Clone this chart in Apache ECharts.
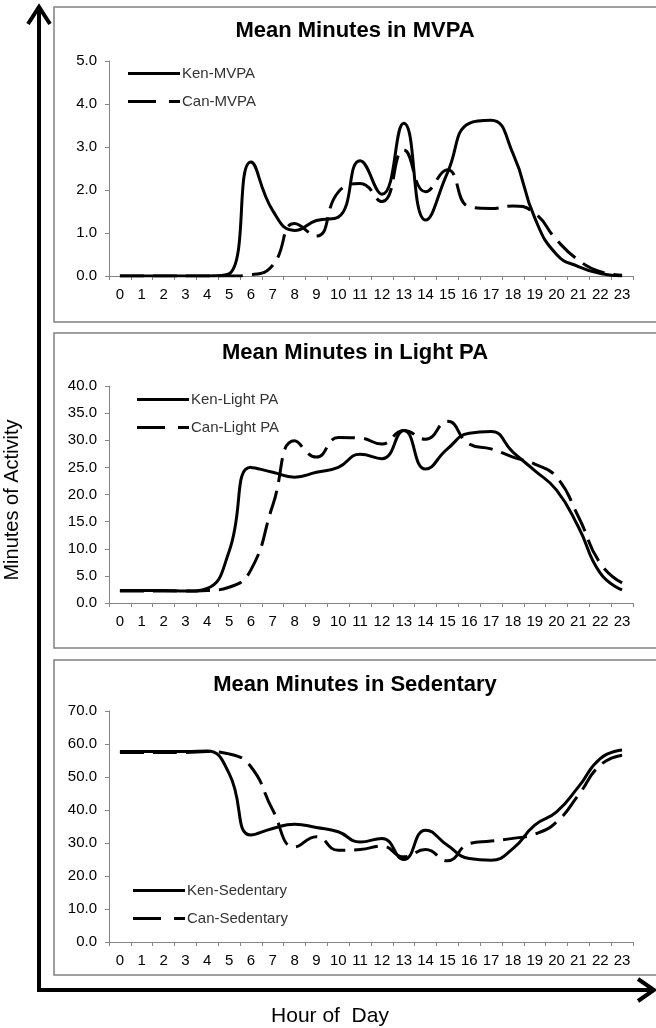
<!DOCTYPE html>
<html>
<head>
<meta charset="utf-8">
<script src="https://cdn.jsdelivr.net/npm/echarts@6/dist/echarts.min.js"></script>
<style>
    html, body { margin: 0; padding: 0; background: #fff; }
    #chart { width: 656px; height: 1028px; }
</style>
</head>
<body>
<div id="chart"></div>
<script>
// hours of the day
const hours = ['0','1','2','3','4','5','6','7','8','9','10','11','12','13','14','15','16','17','18','19','20','21','22','23'];

// mean minutes per hour
const kenMVPA = [0, 0, 0, 0, 0, 0.05, 2.65, 1.52, 1.06, 1.29, 1.37, 2.68, 1.9, 3.55, 1.3, 2.4, 3.55, 3.62, 2.85, 1.35, 0.5, 0.22, 0.06, 0];
const canMVPA = [0, 0, 0, 0, 0, 0, 0.03, 0.25, 1.22, 0.93, 1.95, 2.15, 1.73, 2.93, 1.96, 2.47, 1.61, 1.57, 1.63, 1.46, 0.84, 0.37, 0.1, 0.02];

const kenLight = [2.3, 2.3, 2.3, 2.2, 2.7, 9.5, 25.0, 24.1, 23.2, 24.1, 25.0, 27.4, 26.6, 31.8, 24.7, 28.4, 31.3, 31.6, 27.8, 24.4, 20.8, 14.0, 5.5, 2.4];
const canLight = [2.2, 2.2, 2.2, 2.2, 2.3, 2.9, 6.1, 18.0, 29.9, 26.9, 30.5, 30.4, 29.3, 31.8, 30.2, 33.5, 29.3, 28.4, 26.9, 25.6, 23.2, 15.9, 7.3, 3.7];

const kenSed = [57.7, 57.7, 57.7, 57.7, 57.9, 51.1, 32.4, 34.4, 35.7, 34.7, 33.4, 30.3, 31.4, 25.0, 33.9, 29.3, 25.3, 24.8, 28.3, 35.4, 39.4, 47.0, 55.6, 58.2];
const canSed = [57.4, 57.4, 57.4, 57.4, 57.7, 57.0, 53.1, 40.0, 28.8, 31.9, 27.8, 28.0, 29.1, 25.8, 28.0, 24.6, 29.8, 30.6, 31.4, 32.7, 36.4, 44.5, 53.6, 56.6];

// y axis ranges per panel
const yMax = [5, 40, 70];
const yStep = [1, 5, 10];

const font = 'Liberation Sans, Arial, sans-serif';
const axisGray = '#868686';
// legend keys: solid bar and long-short dash like the excel legend
const solidIcon = 'path://M0,0h52v3h-52z';
const dashIcon = 'path://M0,0h28v3h-28z M41,0h11v3h-11z';

let myChart = echarts.init(document.getElementById('chart'));

function xAxis(i) {
    return {
        type: 'category',
        gridIndex: i,
        data: hours,
        boundaryGap: true,
        axisLine: { lineStyle: { color: axisGray, width: 1 } },
        axisTick: { show: true, length: 4, interval: 0, lineStyle: { color: axisGray } },
        axisLabel: { interval: 0, margin: 11, color: '#000', fontSize: 15, fontFamily: font }
    }
}

function yAxis(i) {
    return {
        type: 'value',
        gridIndex: i,
        min: 0,
        max: yMax[i],
        interval: yStep[i],
        splitLine: { show: false },
        axisLine: { show: true, lineStyle: { color: axisGray, width: 1 } },
        axisTick: { show: true, length: 4, lineStyle: { color: axisGray } },
        axisLabel: {
            margin: 12, color: '#000', fontSize: 15, fontFamily: font,
            formatter: v => v.toFixed(1)
        }
    }
}

function line(name, data, i, dashed) {
    return {
        name: name,
        type: 'line',
        xAxisIndex: i,
        yAxisIndex: i,
        data: data,
        smooth: 0.5,
        symbol: 'none',
        lineStyle: { color: '#000', width: 3, type: dashed ? [24, 9] : 'solid' },
        itemStyle: { color: '#000' }
    }
}

function legend(names, left, top) {
    return {
        data: [
            { name: names[0], icon: solidIcon },
            { name: names[1], icon: dashIcon }
        ],
        orient: 'vertical',
        left: left,
        top: top,
        itemWidth: 52,
        itemHeight: 3,
        itemGap: 13,
        padding: 0,
        textStyle: { color: '#333', fontSize: 15, lineHeight: 14, fontFamily: font, padding: [0, 0, 0, -3] }
    }
}

function title(text, top) {
    return {
        text: text,
        left: 355,
        textAlign: 'center',
        top: top,
        padding: 0,
        textStyle: { color: '#000', fontSize: 22, fontWeight: 'bold', fontFamily: font }
    }
}

myChart.setOption({
    animation: false,
    title: [
        title('Mean Minutes in MVPA', 20),
        title('Mean Minutes in Light PA', 342),
        title('Mean Minutes in Sedentary', 674)
    ],
    legend: [
        legend(['Ken-MVPA', 'Can-MVPA'], 128, 66),
        legend(['Ken-Light PA', 'Can-Light PA'], 137, 392),
        legend(['Ken-Sedentary', 'Can-Sedentary'], 133, 883)
    ],
    grid: [
        { left: 109, right: 23, top: 61, height: 215 },
        { left: 109, right: 23, top: 386, height: 217 },
        { left: 109, right: 23, top: 711, height: 231 }
    ],
    xAxis: [xAxis(0), xAxis(1), xAxis(2)],
    yAxis: [yAxis(0), yAxis(1), yAxis(2)],
    series: [
        line('Ken-MVPA', kenMVPA, 0, false),
        line('Can-MVPA', canMVPA, 0, true),
        line('Ken-Light PA', kenLight, 1, false),
        line('Can-Light PA', canLight, 1, true),
        line('Ken-Sedentary', kenSed, 2, false),
        line('Can-Sedentary', canSed, 2, true)
    ],
    graphic: [
        // panel frames
        { type: 'rect', shape: { x: 54, y: 7, width: 620, height: 315 }, style: { fill: 'none', stroke: '#808080', lineWidth: 1.5 } },
        { type: 'rect', shape: { x: 54, y: 333, width: 620, height: 315 }, style: { fill: 'none', stroke: '#808080', lineWidth: 1.5 } },
        { type: 'rect', shape: { x: 54, y: 660, width: 620, height: 315 }, style: { fill: 'none', stroke: '#808080', lineWidth: 1.5 } },
        // big axes arrows
        { type: 'polyline', shape: { points: [[39, 8], [39, 990], [652, 990]] }, style: { fill: 'none', stroke: '#000', lineWidth: 4 } },
        { type: 'polyline', shape: { points: [[28, 24], [39, 7], [50, 24]] }, style: { fill: 'none', stroke: '#000', lineWidth: 4 } },
        { type: 'polyline', shape: { points: [[638, 979], [654, 990], [638, 1001]] }, style: { fill: 'none', stroke: '#000', lineWidth: 4 } },
        // axis names
        { type: 'text', x: 12, y: 500, rotation: Math.PI / 2, style: { text: 'Minutes of Activity', fill: '#000', fontSize: 20, fontFamily: font, align: 'center', verticalAlign: 'middle' } },
        { type: 'text', x: 330, y: 1016, style: { text: 'Hour of  Day', fill: '#000', fontSize: 21, fontFamily: font, align: 'center', verticalAlign: 'middle' } }
    ]
});

window.addEventListener("resize", () => {
    myChart.resize();
})
</script>
</body>
</html>
